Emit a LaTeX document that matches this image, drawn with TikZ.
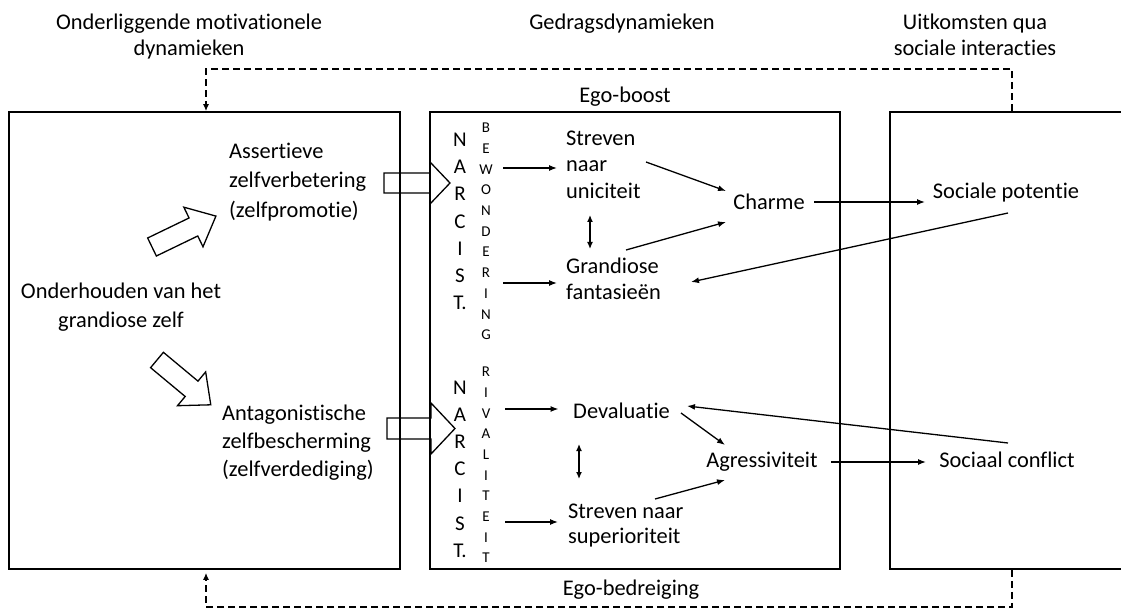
\documentclass[tikz,border=0pt]{standalone}
\usepackage{fontspec}
\setmainfont{Carlito}[Ligatures={NoCommon,NoContextual}]
\usetikzlibrary{arrows.meta,calc}
\begin{document}
\begin{tikzpicture}[x=1pt,y=-1pt,
  txt/.style={inner sep=0pt, font=\fontsize{22.4}{27}\selectfont},
  lft/.style={txt, align=left, anchor=west},
  ctr/.style={txt, align=center},
  boxn/.style={draw, line width=1.6pt, minimum height=457pt, inner sep=0pt},
  arr/.style={line width=1.3pt, -{Latex[length=8pt,width=6pt]}},
  darr/.style={line width=1.3pt, {Latex[length=7pt,width=6pt]}-{Latex[length=7pt,width=6pt]}},
  dsh/.style={line width=1.5pt, dash pattern=on 7pt off 4pt, -{Latex[length=7pt,width=6pt]}},
  blk/.style={line width=1.3pt, line join=miter},
  bigcol/.style={inner sep=0pt, font=\fontsize{21}{27.2}\selectfont, align=center},
  smallcol/.style={inner sep=0pt, font=\fontsize{15}{20.7}\selectfont, align=center},
]
\useasboundingbox (0,0) rectangle (1121,612);

% boxes
\node[boxn, minimum width=391pt] (lbox) at (204.5,340.5) {};
\node[boxn, minimum width=410pt] (mbox) at (635,340.5) {};
\node[boxn, minimum width=260pt] (rbox) at (1020,340.5) {};

% titles
\node[ctr, font=\fontsize{22.4}{26}\selectfont] (t1) at (189,37) {Onderliggende motivationele\\dynamieken};
\node[ctr] (t2) at (622,24) {Gedragsdynamieken};
\node[ctr, font=\fontsize{22.4}{26}\selectfont] (t3) at (975,34.5) {Uitkomsten qua\\sociale interacties};
\node[ctr] (eb) at (625,97) {Ego-boost};
\node[ctr] (ebd) at (631,590) {Ego-bedreiging};

% left box
\node[lft, font=\fontsize{22.4}{29.5}\selectfont] (ass) at (229,182) {Assertieve\\zelfverbetering\\(zelfpromotie)};
\node[ctr, font=\fontsize{22.4}{29}\selectfont] (ond) at (121,307) {Onderhouden van het\\grandiose zelf};
\node[lft, font=\fontsize{22.4}{28}\selectfont] (ant) at (222,443) {Antagonistische\\zelfbescherming\\(zelfverdediging)};

% letter columns
\node[bigcol] (narc1) at (460,221.5) {N\\A\\R\\C\\I\\S\\T.};
\node[smallcol] (bew) at (486,231.5) {B\\E\\W\\O\\N\\D\\E\\R\\I\\N\\G};
\node[bigcol] (narc2) at (460,469) {N\\A\\R\\C\\I\\S\\T.};
\node[smallcol] (riv) at (486,465) {R\\I\\V\\A\\L\\I\\T\\E\\I\\T};

% middle box
\node[lft, font=\fontsize{22.4}{26.5}\selectfont] (str1) at (566,164.5) {Streven\\naar\\uniciteit};
\node[ctr] (charme) at (769,202) {Charme};
\node[lft, font=\fontsize{22.4}{26}\selectfont] (gran) at (566,278.5) {Grandiose\\fantasieën};
\node[ctr] (deval) at (621.5,410.5) {Devaluatie};
\node[ctr] (aggr) at (762,462) {Agressiviteit};
\node[lft, font=\fontsize{22.4}{25}\selectfont] (str2) at (568,525.5) {Streven naar\\superioriteit};

% right box
\node[ctr] (socpot) at (1006,193) {Sociale potentie};
\node[ctr] (soccon) at (1007,459.5) {Sociaal conflict};

% block arrows
\draw[blk, shift={(152,247)}, rotate=25.8] (0,-10) -- (46,-10) -- (46,-22) -- (71,0) -- (46,22) -- (46,10) -- (0,10) -- cycle;
\draw[blk, shift={(157,360)}, rotate=-39.8] (0,-10) -- (45,-10) -- (45,-22) -- (70,0) -- (45,22) -- (45,10) -- (0,10) -- cycle;
\draw[blk] (384,173) -- (430,173) -- (430,162) -- (450,183) -- (430,204) -- (430,193) -- (384,193) -- cycle;
\draw[blk] (387,418) -- (431,418) -- (431,403) -- (455,428.5) -- (431,454) -- (431,439) -- (387,439) -- cycle;

% connectors
\draw[arr] ($(bew.center |- str1.west)+(17,3.5)$) -- ($(str1.west)+(-9,3.5)$);
\draw[arr] ($(bew.center |- gran.west)+(17,4.5)$) -- ($(gran.west)+(-9,4.5)$);
\draw[arr] ($(riv.center |- deval.center)+(19,-1.5)$) -- ($(deval.center)+(-63,-1.5)$);
\draw[arr] ($(riv.center |- str2.west)+(19,-3.5)$) -- ($(str2.west)+(-10,-3.5)$);
\draw[arr] ($(str1.west)+(80,-2.5)$) -- ($(charme.center)+(-43,-11)$);
\draw[arr] ($(gran.west)+(60,-28.5)$) -- ($(charme.center)+(-43,20)$);
\draw[arr] ($(charme.center)+(45,0)$) -- ($(socpot.center)+(-81,9)$);
\draw[arr] ($(socpot.center)+(2,20)$) -- ($(gran.west)+(125,3.5)$);
\draw[darr] ($(str1.west)+(24,50.5)$) -- ($(gran.west)+(24,-29.5)$);
\draw[arr] ($(deval.center)+(59.5,2.5)$) -- ($(aggr.center)+(-37,-17)$);
\draw[arr] ($(soccon.center)+(1,-16.5)$) -- ($(deval.center)+(65.5,-4.5)$);
\draw[arr] ($(aggr.center)+(69,0)$) -- ($(soccon.center)+(-81,2.5)$);
\draw[darr] ($(deval.center)+(-42.5,33.5)$) -- ($(str2.west)+(11,-46.5)$);
\draw[arr] ($(str2.west)+(87,-26.5)$) -- ($(aggr.center)+(-37,18)$);

% feedback loops
\draw[dsh] ($(rbox.north)+(-8,0)$) -- ++(0,-42) -| ($(lbox.north)+(1.5,0)$);
\draw[dsh] ($(rbox.south)+(-8,0)$) -- ++(0,37) -| ($(lbox.south)+(1.5,3)$);
\end{tikzpicture}
\end{document}
